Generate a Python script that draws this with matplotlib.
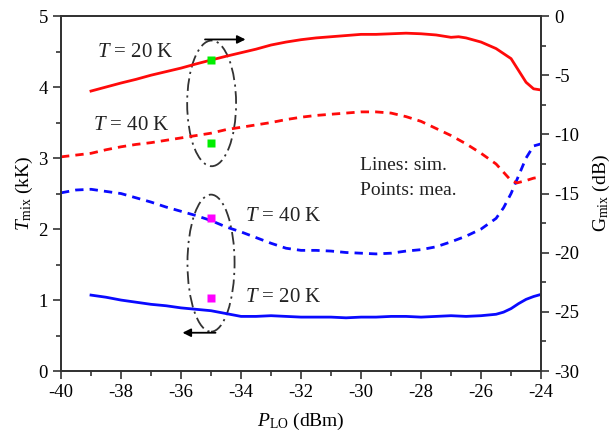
import matplotlib
matplotlib.use("Agg")
import matplotlib.pyplot as plt
from matplotlib.patches import Ellipse
from matplotlib.ticker import MultipleLocator

plt.rcParams['font.family'] = ['Liberation Serif', 'DejaVu Serif']
plt.rcParams['mathtext.fontset'] = 'custom'
plt.rcParams['mathtext.rm'] = 'Liberation Serif'
plt.rcParams['mathtext.it'] = 'Liberation Serif:italic'
plt.rcParams['axes.unicode_minus'] = False

# simulated curves
# red = gain (right axis, dB), blue = noise temperature (left axis, kK)
x_g20 = [-39, -38.5, -38, -37.5, -37, -36.5, -36, -35.5, -35, -34.5, -34, -33.5, -33,
         -32.5, -32, -31.5, -31, -30.5, -30, -29.5, -29, -28.5, -28, -27.5, -27, -26.75, -26.5,
         -26, -25.5, -25, -24.75, -24.5, -24.25, -24]
g20 = [-6.34, -6.0, -5.66, -5.35, -5.0, -4.7, -4.4, -4.05, -3.72, -3.4, -3.1, -2.8, -2.45,
       -2.2, -2.0, -1.85, -1.75, -1.65, -1.55, -1.55, -1.5, -1.45, -1.5, -1.6, -1.8, -1.75, -1.85,
       -2.2, -2.75, -3.6, -4.6, -5.6, -6.15, -6.25]

x_g40 = [-40, -39.5, -39, -38.5, -38, -37.5, -37, -36.5, -36, -35.5, -35, -34.5, -34, -33.5,
         -33, -32.5, -32, -31.5, -31, -30.5, -30, -29.5, -29, -28.5, -28, -27.5, -27, -26.5,
         -26, -25.5, -25, -24.8, -24.5, -24.25, -24]
g40 = [-11.9, -11.75, -11.6, -11.3, -11.05, -10.85, -10.7, -10.5, -10.3, -10.1, -9.9, -9.6,
       -9.4, -9.2, -9.0, -8.75, -8.55, -8.4, -8.3, -8.2, -8.1, -8.1, -8.2, -8.5, -8.9, -9.5,
       -10.1, -10.8, -11.6, -12.5, -13.9, -14.1, -13.9, -13.7, -13.6]

x_t40 = [-40, -39.5, -39, -38.5, -38, -37.5, -37, -36.5, -36, -35.5, -35, -34.5, -34, -33.5,
         -33, -32.5, -32, -31.5, -31, -30.5, -30, -29.5, -29, -28.5, -28, -27.5, -27, -26.5,
         -26, -25.5, -25.25, -25, -24.75, -24.5, -24.25, -24]
t40 = [2.51, 2.55, 2.56, 2.53, 2.5, 2.44, 2.38, 2.31, 2.25, 2.19, 2.12, 2.03, 1.96, 1.88,
       1.8, 1.73, 1.7, 1.7, 1.69, 1.67, 1.66, 1.65, 1.66, 1.69, 1.71, 1.75, 1.82, 1.9,
       2.0, 2.15, 2.3, 2.5, 2.75, 3.0, 3.17, 3.2]

x_t20 = [-39, -38.5, -38, -37.5, -37, -36.5, -36, -35.5, -35, -34.5, -34, -33.5, -33, -32.5,
         -32, -31.5, -31, -30.5, -30, -29.5, -29, -28.5, -28, -27.5, -27, -26.5, -26, -25.5,
         -25.25, -25, -24.75, -24.5, -24.25, -24]
t20 = [1.07, 1.04, 1.0, 0.97, 0.94, 0.92, 0.89, 0.87, 0.85, 0.81, 0.77, 0.77, 0.78, 0.77,
       0.76, 0.76, 0.76, 0.75, 0.76, 0.76, 0.77, 0.77, 0.76, 0.77, 0.78, 0.77, 0.78, 0.8,
       0.83, 0.88, 0.95, 1.01, 1.05, 1.08]

# measured points at -35 dBm
x_mea = [-35, -35]
g_mea = [-3.72, -10.75]
t_mea = [2.16, 1.03]

fig = plt.figure(figsize=(6.1, 4.33), dpi=100)
ax = fig.add_axes([0.1, 0.143, 0.787, 0.820])
ax2 = ax.twinx()

ax.plot(x_t20, t20, color='#0a0aff', lw=2)
ax.plot(x_t40, t40, color='#0a0aff', lw=2, linestyle=(0, (3, 2.2)))
ax.plot(x_mea, t_mea, 's', color='#ff00ff', ms=6, mec='none')

ax2.plot(x_g20, g20, color='#ff0a0a', lw=2)
ax2.plot(x_g40, g40, color='#ff0a0a', lw=2, linestyle=(0, (3, 2.2)))
ax2.plot(x_mea, g_mea, 's', color='#00ee00', ms=6, mec='none')

ax.set_xlim(-40, -24)
ax.set_ylim(0, 5)
ax2.set_ylim(-30, 0)

ax.xaxis.set_major_locator(MultipleLocator(2))
ax.xaxis.set_minor_locator(MultipleLocator(1))
ax.yaxis.set_major_locator(MultipleLocator(1))
ax.yaxis.set_minor_locator(MultipleLocator(0.5))
ax2.yaxis.set_major_locator(MultipleLocator(5))
ax2.yaxis.set_minor_locator(MultipleLocator(2.5))

for a in (ax, ax2):
    for s in a.spines.values():
        s.set_linewidth(1.3)
        s.set_color('#333333')
    a.tick_params(which='both', direction='out', width=1.2, color='#333333',
                  labelsize=13.5, top=False)
    a.tick_params(which='major', length=6)
    a.tick_params(which='minor', length=3.5)

ax.set_xlabel(r'$P_{\rm LO}$ (dBm)', fontsize=14, labelpad=7)
ax.set_ylabel(r'$T_{\rm mix}$ (kK)', fontsize=14, labelpad=2.5)
ax2.set_ylabel(r'G$_{\rm mix}$ (dB)', fontsize=14, labelpad=8)

# ellipses and arrows marking which axis the curves belong to
ls_dd = (0, (7, 2.5, 1.2, 2.5))
ax.add_patch(Ellipse((-34.98, 3.77), 1.63, 1.77, fill=False, lw=1.3,
                     edgecolor='#333333', linestyle=ls_dd))
ax.add_patch(Ellipse((-35.0, 1.52), 1.57, 1.93, fill=False, lw=1.3,
                     edgecolor='#333333', linestyle=ls_dd))
ax.annotate('', xy=(-33.85, 4.67), xytext=(-35.2, 4.67),
            arrowprops=dict(arrowstyle='-|>', color='k', lw=1.3, mutation_scale=12,
                            shrinkA=0, shrinkB=0))
ax.annotate('', xy=(-35.95, 0.54), xytext=(-34.85, 0.54),
            arrowprops=dict(arrowstyle='-|>', color='k', lw=1.3, mutation_scale=12,
                            shrinkA=0, shrinkB=0))

fs = 15
ax.text(-38.8, 4.49, r'$T$ = 20 K', fontsize=fs, va='center', color='#222222')
ax.text(-38.93, 3.46, r'$T$ = 40 K', fontsize=fs, va='center', color='#222222')
ax.text(-33.87, 2.17, r'$T$ = 40 K', fontsize=fs, va='center', color='#222222')
ax.text(-33.87, 1.04, r'$T$ = 20 K', fontsize=fs, va='center', color='#222222')
ax.text(-30.03, 2.9, 'Lines: sim.', fontsize=14, va='center', color='#222222')
ax.text(-30.03, 2.54, 'Points: mea.', fontsize=14, va='center', color='#222222')

fig.savefig('out.png', dpi=100)
